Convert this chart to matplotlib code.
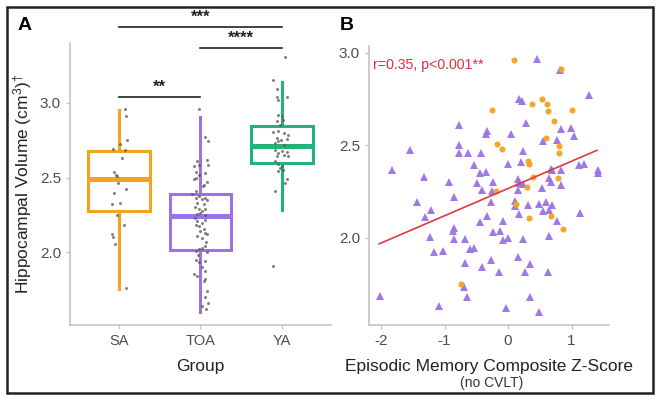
import matplotlib
matplotlib.use("Agg")
import matplotlib.pyplot as plt
from matplotlib.patches import Rectangle
import numpy as np

plt.rcParams['font.family'] = ['Liberation Sans', 'DejaVu Sans']
plt.rcParams['mathtext.fontset'] = 'custom'
plt.rcParams['mathtext.rm'] = 'Liberation Sans'
plt.rcParams['mathtext.it'] = 'Liberation Sans:italic'

# ---- panel A data ----
groups = ["SA", "TOA", "YA"]
colors = ["#F2A31F", "#9C72E6", "#22B27A"]
# box stats: whislo, q1, med, q3, whishi
box_stats = [
    [1.753, 2.273, 2.487, 2.68, 2.953],
    [1.600, 2.013, 2.240, 2.393, 2.907],
    [2.280, 2.600, 2.713, 2.847, 3.140],
]
sa_vals = [2.958, 2.909, 2.749, 2.725, 2.691, 2.687, 2.631, 2.538, 2.52, 2.507, 2.462,
           2.42, 2.398, 2.325, 2.327, 2.249, 2.18, 2.12, 2.105, 2.053, 1.758]
sa_off = [0.074, 0.082, 0.094, 0.012, -0.07, 0.074, 0.033, -0.058, -0.04, -0.028, -0.009,
          0.086, -0.058, -0.09, 0.012, -0.021, 0.065, -0.082, -0.077, -0.049, 0.082]
toa_vals = [2.96, 2.769, 2.742, 2.609, 2.576, 2.587, 2.62, 2.582, 2.538, 2.52, 2.493, 2.527,
            2.471, 2.453, 2.387, 2.364, 2.376, 2.353, 2.347, 2.331, 2.32, 2.287, 2.276, 2.264,
            2.287, 2.253, 2.209, 2.198, 2.213, 2.176, 2.153, 2.142, 2.109, 2.093, 2.131, 2.031,
            2.042, 2.02, 2.009, 2.004, 1.947, 1.936, 1.942, 1.898, 1.842, 1.876, 1.853, 1.82,
            1.742, 1.698, 1.658, 1.642, 1.62, 1.811, 2.44, 2.41, 2.30, 2.25, 2.18, 2.07,
            2.36, 2.23, 2.12, 1.98, 2.50]
toa_off = [-0.02, 0.061, 0.09, -0.041, -0.082, -0.02, 0.082, 0.094, -0.053, -0.02, -0.082, 0.061,
           0.082, 0.041, -0.102, -0.061, -0.02, 0.02, 0.082, -0.041, 0.041, -0.02, 0.02, 0.0,
           0.061, -0.049, -0.041, 0.02, 0.061, -0.02, 0.041, 0.0, -0.041, 0.02, 0.061, 0.02,
           0.061, -0.02, -0.061, 0.082, -0.061, -0.02, 0.061, 0.02, -0.041, 0.061, -0.082, 0.061,
           0.082, 0.053, 0.094, 0.02, 0.07, 0.041, 0.03, -0.06, -0.07, 0.05, -0.05, 0.07,
           0.05, -0.07, 0.08, -0.03, -0.06]
ya_vals = [3.309, 3.153, 3.091, 3.042, 3.042, 3.02, 2.92, 2.909, 2.887, 2.876, 2.853, 2.804,
           2.813, 2.798, 2.787, 2.764, 2.753, 2.758, 2.731, 2.742, 2.72, 2.687, 2.68, 2.671,
           2.664, 2.653, 2.642, 2.642, 2.609, 2.591, 2.576, 2.564, 2.553, 2.542, 2.487, 2.464,
           2.409, 1.905]
ya_off = [0.037, -0.106, -0.057, 0.057, -0.065, -0.045, -0.053, -0.004, 0.016, -0.065, -0.025,
          -0.106, -0.045, 0.029, 0.078, -0.065, -0.012, 0.057, -0.086, -0.045, 0.029, -0.086,
          0.004, 0.057, -0.045, 0.029, -0.065, 0.078, -0.086, -0.045, -0.004, -0.025, 0.016,
          -0.053, 0.057, 0.037, -0.086, -0.106]
# significance brackets: (from, to, height, label)
sig_from = [1, 2, 1]
sig_to = [3, 3, 2]
sig_y = [3.507, 3.367, 3.04]
sig_lab = ["***", "****", "**"]

# ---- panel B data ----
sa_z = [0.094, 0.83, -0.26, 0.37, 0.53, 0.61, 0.625, 1.01, 0.72, 0.60, 0.81, 0.81, -0.17,
        -0.10, 0.32, 0.33, 0.40, 0.79, -0.19, 0.30, 0.12, 0.33, 0.68, 0.87, -0.74]
sa_hv = [2.962, 2.914, 2.688, 2.724, 2.751, 2.724, 2.683, 2.692, 2.629, 2.539, 2.494, 2.458,
         2.508, 2.479, 2.416, 2.40, 2.328, 2.323, 2.254, 2.274, 2.184, 2.106, 2.119, 2.049, 1.751]
toa_z = [0.46, 0.82, 1.28, 0.17, 0.22, 0.28, -0.77, -0.33, -0.35, 0.05, 0.83, 0.99, 1.04,
         0.55, 0.77, -1.54, -0.78, -0.77, -0.63, -0.43, 0.23, 0.20, -0.53, 0.0, -1.82, -0.44,
         -0.35, 0.67, 0.70, 0.83, 1.12, 1.20, 1.42, 1.42, -1.32, -0.93, -0.49, -0.24, 0.15,
         0.18, 0.23, 0.64, 0.67, 0.83, -0.85, -0.41, -0.26, 0.15, 0.53, -1.43, -1.21, -1.31,
         -0.85, -0.86, -0.44, -0.33, -0.08, -0.24, -0.13, -0.08, 0.0, -0.27, 0.18, 0.32, 0.49,
         0.60, 0.70, 0.55, 0.65, 0.77, 1.14, -1.23, -0.85, -0.68, -0.60, -0.53, -1.16, -1.02,
         0.24, 0.65, 0.15, 0.34, -0.27, -0.68, -0.41, -0.15, 0.26, 0.63, -0.69, -0.64, 0.35,
         -2.02, -1.09, -0.03, 0.49, 0.11, 0.11]
toa_hv = [2.968, 2.908, 2.773, 2.751, 2.741, 2.623, 2.611, 2.575, 2.561, 2.562, 2.588, 2.596,
          2.548, 2.521, 2.53, 2.472, 2.503, 2.461, 2.458, 2.461, 2.47, 2.412, 2.391, 2.398, 2.364,
          2.353, 2.358, 2.371, 2.364, 2.368, 2.391, 2.398, 2.368, 2.353, 2.328, 2.304, 2.299,
          2.301, 2.319, 2.296, 2.292, 2.326, 2.304, 2.286, 2.223, 2.26, 2.256, 2.259, 2.272,
          2.196, 2.151, 2.112, 2.052, 2.039, 2.088, 2.119, 2.094, 2.034, 2.038, 1.989, 2.002,
          2.196, 2.13, 2.18, 2.184, 2.196, 2.18, 2.146, 2.151, 2.092, 2.134, 2.004, 1.995,
          1.993, 1.939, 1.948, 1.926, 1.931, 1.993, 2.011, 1.896, 1.858, 1.881, 1.863, 1.845,
          1.818, 1.818, 1.818, 1.737, 1.679, 1.683, 1.688, 1.634, 1.620, 1.598, 2.20, 2.17]
fit_x = [-2.03, 1.40]
fit_y = [1.968, 2.473]
stat_text = "r=0.35, p<0.001**"

axis_gray = "#C4C4C4"
tick_gray = "#4D4D4D"

fig = plt.figure(figsize=(6.6, 4.01), dpi=100)
W, H = 660, 401


def px_axes(l, t, r, b):
    return fig.add_axes([l / W, 1 - b / H, (r - l) / W, (b - t) / H])


def style(ax):
    for s in ["top", "right"]:
        ax.spines[s].set_visible(False)
    for s in ["left", "bottom"]:
        ax.spines[s].set_color(axis_gray)
        ax.spines[s].set_linewidth(1.2)
    ax.tick_params(colors=axis_gray, labelcolor=tick_gray, length=3, width=1, labelsize=11)


# ---- panel A ----
axA = px_axes(70, 43, 331, 325)
style(axA)
stats = []
for g, s in zip(groups, box_stats):
    stats.append(dict(label=g, whislo=s[0], q1=s[1], med=s[2], q3=s[3], whishi=s[4], fliers=[]))
bp = axA.bxp(stats, positions=[1, 2, 3], widths=0.76, showfliers=False, showcaps=False,
             patch_artist=True)
for i, c in enumerate(colors):
    bp['boxes'][i].set(facecolor="white", edgecolor=c, linewidth=2.2)
    bp['medians'][i].set(color=c, linewidth=3.6)
    for w in bp['whiskers'][2 * i:2 * i + 2]:
        w.set(color=c, linewidth=2.2)

for pos, vals, offs in [(1, sa_vals, sa_off), (2, toa_vals, toa_off), (3, ya_vals, ya_off)]:
    axA.plot(pos + np.array(offs), vals, 'o', color="#5a5a5a", alpha=0.75, markersize=2.2,
             markeredgewidth=0, zorder=5)

axA.set_xlim(0.4, 3.6)
axA.set_ylim(1.5133, 3.4)
axA.set_yticks([2.0, 2.5, 3.0])
axA.set_yticklabels(["2.0", "2.5", "3.0"])
axA.set_xticks([1, 2, 3])
axA.set_xticklabels(groups, fontsize=10.5)
axA.set_xlabel("Group", fontsize=12.5, color="#222222", labelpad=8)
axA.set_ylabel("Hippocampal Volume (cm$^{3}$)$^{†}$", fontsize=12.5, color="#222222", labelpad=4)

for a, b, y, lab in zip(sig_from, sig_to, sig_y, sig_lab):
    axA.plot([a, b], [y, y], color="#222222", linewidth=1.2, clip_on=False)
    axA.text((a + b) / 2, y + 0.012, lab, ha="center", va="bottom", fontsize=12,
             fontweight="bold", color="#222222", clip_on=False)

# ---- panel B ----
axB = px_axes(369, 46, 609, 325)
style(axB)
axB.plot(toa_z, toa_hv, '^', color=colors[1], markersize=5.3, markeredgewidth=0, alpha=0.95)
axB.plot(sa_z, sa_hv, 'o', color=colors[0], markersize=4.4, markeredgewidth=0, alpha=0.95)
axB.plot(fit_x, fit_y, color="#E03A3E", linewidth=1.2)
axB.set_xlim(-2.19, 1.59)
axB.set_ylim(1.53, 3.036)
axB.set_xticks([-2, -1, 0, 1])
axB.set_xticklabels(["-2", "-1", "0", "1"])
axB.set_yticks([2.0, 2.5, 3.0])
axB.set_yticklabels(["2.0", "2.5", "3.0"])
axB.set_xlabel("Episodic Memory Composite Z-Score", fontsize=12.5, color="#222222", labelpad=8)
axB.text(-2.13, 2.935, stat_text, color="#D93040", fontsize=10.2, ha="left", va="center")
fig.text(492 / W, 1 - 383 / H, "(no CVLT)", ha="center", va="center", fontsize=10,
         color="#333333")

# panel letters and frame
fig.text(25 / W, 1 - 25 / H, "A", fontsize=14, fontweight="bold", ha="center", va="center")
fig.text(347 / W, 1 - 25 / H, "B", fontsize=14, fontweight="bold", ha="center", va="center")
fig.patches.append(Rectangle((7 / W, 1 - 393 / H), 646 / W, 386 / H, transform=fig.transFigure,
                             fill=False, edgecolor="#222222", linewidth=1.8))

fig.savefig("out.png", dpi=100)
